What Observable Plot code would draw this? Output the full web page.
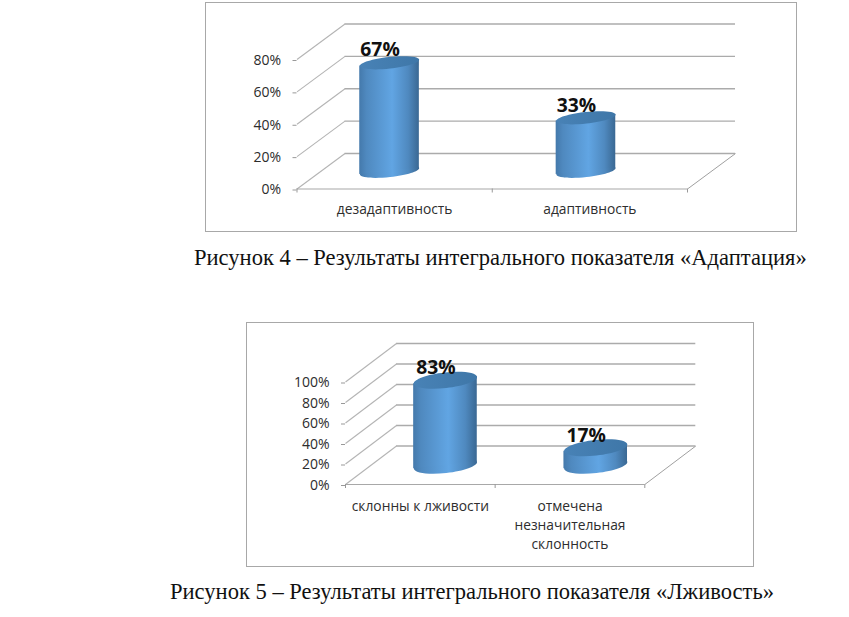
<!DOCTYPE html>
<html><head><meta charset="utf-8">
<script src="https://cdn.jsdelivr.net/npm/d3@7"></script>
<script src="https://cdn.jsdelivr.net/npm/@observablehq/plot@0.6"></script>
<style>
html,body{margin:0;padding:0;background:#fff;width:849px;height:617px;overflow:hidden}
.frame{position:absolute;border:1px solid #a8a8a8;box-sizing:border-box;background:#fff}
.frame svg{display:block;position:absolute;left:0;top:0}
.cap{position:absolute;font-family:"Liberation Serif",serif;font-size:22.55px;color:#111;white-space:nowrap;line-height:24px}
</style></head><body>
<svg width="0" height="0" style="position:absolute"><defs>
<linearGradient id="side" x1="0" x2="1" y1="0" y2="0">
<stop offset="0" stop-color="#4479ab"/><stop offset=".12" stop-color="#4f89bf"/><stop offset=".55" stop-color="#61a5e3"/><stop offset=".82" stop-color="#4f89bf"/><stop offset="1" stop-color="#3a6893"/>
</linearGradient>
<linearGradient id="lid" x1="0" x2="1" y1="0" y2="0">
<stop offset="0" stop-color="#4882b6"/><stop offset="1" stop-color="#3f77a8"/>
</linearGradient>
</defs></svg>
<div id="c1" class="frame" style="left:205px;top:2px;width:592px;height:230px"></div>
<div id="cap1" class="cap" style="left:194px;top:246px">Рисунок 4 – Результаты интегрального показателя «Адаптация»</div>
<div id="c2" class="frame" style="left:246px;top:322px;width:508px;height:245px"></div>
<div id="cap2" class="cap" style="left:170px;top:580px">Рисунок 5 – Результаты интегрального показателя «Лживость»</div>
<script>
const categories1 = ["дезадаптивность", "адаптивность"];
const values1 = [67, 33];
const labels1 = ["67%", "33%"];
const ticks1 = [0, 20, 40, 60, 80];
const centers1 = [0.474, 1.48];

const categories2 = ["склонны к лживости", "отмечена\nнезначительная\nсклонность"];
const values2 = [83, 17];
const labels2 = ["83%", "17%"];
const ticks2 = [0, 20, 40, 60, 80, 100];
const centers2 = [0.668, 1.672];

const font = '"Open Sans", sans-serif';
const TILT = 6.3;

function ellipse(rx, ry, deg) {
  const a = deg * Math.PI / 180, c = Math.cos(a), s = Math.sin(a), k = 0.5523;
  const P = (x, y) => [x * c - y * s, x * s + y * c];
  return {draw(ctx) {
    const seg = (p1, p2, p3) => ctx.bezierCurveTo(...P(...p1), ...P(...p2), ...P(...p3));
    ctx.moveTo(...P(rx, 0));
    seg([rx, k * ry], [k * rx, ry], [0, ry]);
    seg([-k * rx, ry], [-rx, k * ry], [-rx, 0]);
    seg([-rx, -k * ry], [-k * rx, -ry], [0, -ry]);
    seg([k * rx, -ry], [rx, -k * ry], [rx, 0]);
    ctx.closePath();
  }};
}

function skewed(index, scales, values, dims, context, next) {
  const g = next(index, scales, values, dims, context);
  d3.select(g).selectAll("rect").each(function() {
    const cx = +this.getAttribute("x") + +this.getAttribute("width") / 2;
    this.setAttribute("transform", `translate(${cx},0) skewY(${-TILT}) translate(${-cx},0)`);
  });
  return g;
}

function chart(o) {
  const {categories, values, labels, ticks, centers} = o;
  const sym = ellipse(o.rx, o.ry, -TILT);
  const hw = o.rx / o.unitX;
  const svg = Plot.plot({
    width: o.width, height: o.height,
    marginLeft: o.ml, marginRight: o.mr, marginTop: o.mt, marginBottom: o.mb,
    style: {fontFamily: font, background: "transparent", overflow: "visible"},
    x: {domain: [0, 2], axis: null},
    y: {domain: [0, ticks[ticks.length - 1]], axis: null},
    marks: [
      Plot.ruleY(ticks, {y: d => d, dx: o.dpx, dy: -o.dpy, stroke: "#ababab", strokeWidth: 1.4}),
      Plot.link(ticks, {x1: () => 0, x2: () => o.dpx / o.unitX, y1: d => d, y2: d => d + o.dpy / o.unitY, stroke: "#b4b4b4", strokeWidth: 1.1}),
      Plot.link([2], {x1: d => d, x2: d => d + o.dpx / o.unitX, y1: () => 0, y2: () => o.dpy / o.unitY, stroke: "#a0a0a0", strokeWidth: 1}),
      Plot.ruleY([0], {stroke: "#a8a8a8", strokeWidth: 1.2}),
      Plot.axisY({ticks, tickSize: 4, tickPadding: 12, tickFormat: d => d + "%", fontSize: 14, color: "#2c2c2c", stroke: "#999", label: null, textStroke: "none", dy: 1}),
      Plot.axisX({ticks: [0, 1, 2], tickSize: 4, tickFormat: () => "", stroke: "#999", label: null}),
      Plot.text(categories, {x: (d, i) => i + 0.5, y: () => 0, dy: o.labelDy, text: d => d, lineAnchor: "top", lineHeight: 1.4, fontSize: 13.8, fill: "#2e2e2e"}),
      Plot.dot(values, {x: (d, i) => centers[i], y: () => 0, dy: -o.dpy / 2, symbol: sym, fill: "url(#side)", stroke: "none"}),
      Plot.rect(values, {x1: (d, i) => centers[i] - hw, x2: (d, i) => centers[i] + hw, y1: () => 0, y2: d => d, dy: -o.dpy / 2, fill: "url(#side)", render: skewed}),
      Plot.dot(values, {x: (d, i) => centers[i], y: d => d, dy: -o.dpy / 2, symbol: sym, fill: "url(#lid)", stroke: "none"}),
      Plot.text(values, {x: (d, i) => centers[i], y: d => d, text: (d, i) => labels[i], dx: -9.5, dy: -o.dpy / 2 - 12.5, fontSize: 19.3, fontWeight: 700, fill: "#111"})
    ]
  });
  return svg;
}

document.getElementById("c1").appendChild(chart({
  categories: categories1, values: values1, labels: labels1, ticks: ticks1, centers: centers1,
  width: 590, height: 228, ml: 90.5, mr: 109, mt: 56, mb: 42.5,
  unitX: 195.25, unitY: 1.62, dpx: 48, dpy: 35.5, rx: 29.8, ry: 5.8, labelDy: 11
}));
document.getElementById("c2").appendChild(chart({
  categories: categories2, values: values2, labels: labels2, ticks: ticks2, centers: centers2,
  width: 506, height: 243, ml: 98, mr: 108.7, mt: 58.5, mb: 82,
  unitX: 149.65, unitY: 1.025, dpx: 51, dpy: 38.5, rx: 31.8, ry: 7.8, labelDy: 12.5
}));
</script>
</body></html>
